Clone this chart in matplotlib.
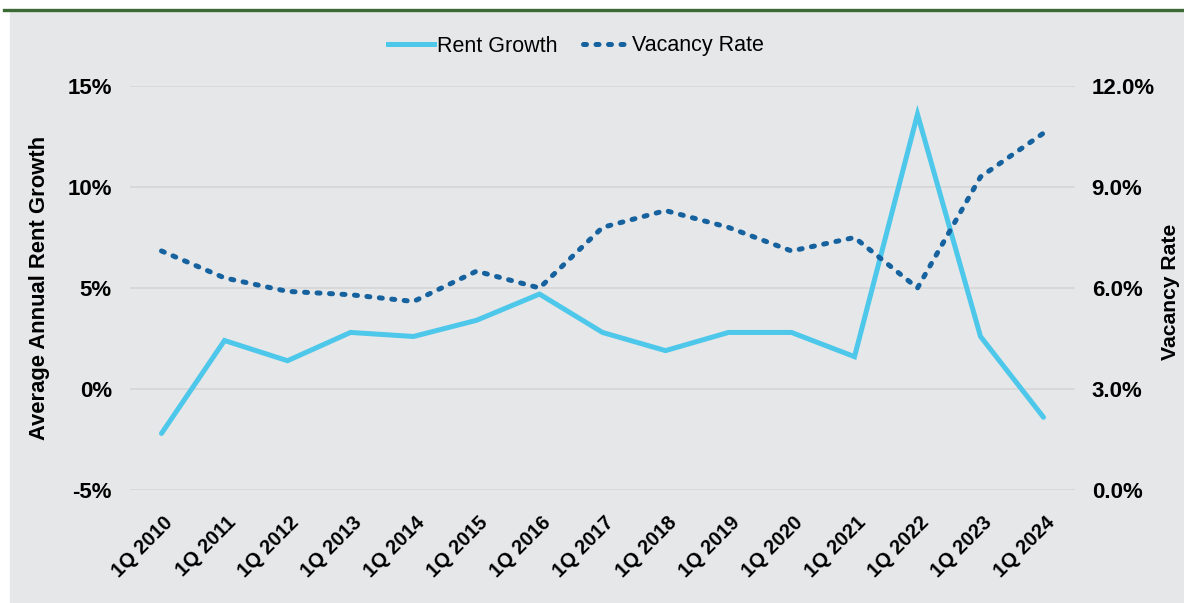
import matplotlib.pyplot as plt
import matplotlib.transforms as mtransforms
from matplotlib.ticker import FuncFormatter
from matplotlib.patches import Rectangle
from matplotlib.lines import Line2D

plt.rcParams['font.family'] = ['Liberation Sans', 'DejaVu Sans']

quarters = ['1Q 2010', '1Q 2011', '1Q 2012', '1Q 2013', '1Q 2014', '1Q 2015',
            '1Q 2016', '1Q 2017', '1Q 2018', '1Q 2019', '1Q 2020', '1Q 2021',
            '1Q 2022', '1Q 2023', '1Q 2024']
rent_growth = [-2.2, 2.4, 1.4, 2.8, 2.6, 3.4, 4.7, 2.8, 1.9, 2.8, 2.8, 1.6,
               13.6, 2.6, -1.4]
vacancy_rate = [7.1, 6.3, 5.9, 5.8, 5.6, 6.5, 6.0, 7.8, 8.3, 7.8, 7.1, 7.5,
                6.0, 9.3, 10.6]
left_ticks = [-5, 0, 5, 10, 15]
right_ticks = [0, 3, 6, 9, 12]

bg = '#e6e7e8'
rent_color = '#4dc7ea'
vac_color = '#16629f'
W, H = 1184, 603

fig = plt.figure(figsize=(W / 100, H / 100), dpi=100)
fig.patch.set_facecolor('white')

# grey panel and green rule at the top
fig.add_artist(Rectangle((10 / W, 0), 1, 1 - 12 / H,
                         transform=fig.transFigure, color=bg, zorder=0))
fig.add_artist(Line2D([4 / W, 1], [1 - 10 / H] * 2,
                      transform=fig.transFigure, color='#3c6a34', lw=2.4))

ax = fig.add_axes([130 / W, 1 - 490 / H, 945 / W, 404 / H])
ax.set_facecolor('none')
ax2 = ax.twinx()

x = range(len(quarters))
dots = (0, (0.6, 1.9))
ax.plot(x, rent_growth, color=rent_color, lw=3.6, solid_capstyle='round',
        solid_joinstyle='miter', zorder=3)
ax2.plot(x, vacancy_rate, color=vac_color, lw=3.6, linestyle=dots,
         dash_capstyle='round', zorder=3)

ax.set_xlim(-0.5, len(quarters) - 0.5)
ax.set_ylim(-5, 15)
ax2.set_ylim(0, 12)
ax.set_yticks(left_ticks)
ax2.set_yticks(right_ticks)
ax.yaxis.set_major_formatter(FuncFormatter(lambda v, p: f'{v:.0f}%'))
ax2.yaxis.set_major_formatter(FuncFormatter(lambda v, p: f'{v:.1f}%'))
ax.grid(axis='y', color='#d6d6d6', lw=1.2)
ax.set_axisbelow(True)

for a in (ax, ax2):
    for s in a.spines.values():
        s.set_visible(False)
    a.tick_params(length=0, labelsize=16)
    for lbl in a.get_yticklabels():
        lbl.set_fontweight('bold')

ax.tick_params(axis='y', pad=13)
ax2.tick_params(axis='y', pad=12)

ax.set_xticks(list(x))
ax.set_xticklabels(quarters, rotation=45, ha='right', va='top',
                   rotation_mode='anchor', fontweight='bold', fontsize=14.5)
shift = mtransforms.ScaledTranslation(2 / 100, -18 / 100, fig.dpi_scale_trans)
for lbl in ax.get_xticklabels():
    lbl.set_transform(lbl.get_transform() + shift)

fig.text(40 / W, 1 - 288 / H, 'Average Annual Rent Growth', rotation=90,
         ha='center', va='center', fontsize=15.8, fontweight='bold')
fig.text(1170 / W, 1 - 292 / H, 'Vacancy Rate', rotation=90,
         ha='center', va='center', fontsize=15.2, fontweight='bold')

handles = [Line2D([], [], color=rent_color, lw=3.6),
           Line2D([], [], color=vac_color, lw=3.6, linestyle=dots,
                  dash_capstyle='round')]
fig.legend(handles, ['Rent Growth', 'Vacancy Rate'], loc='center',
           bbox_to_anchor=(576 / W, 1 - 46 / H), ncol=2, frameon=False,
           fontsize=15.5, handlelength=2.1, handletextpad=0.15,
           columnspacing=1.2)

fig.savefig('out.png', dpi=100, facecolor='white')
